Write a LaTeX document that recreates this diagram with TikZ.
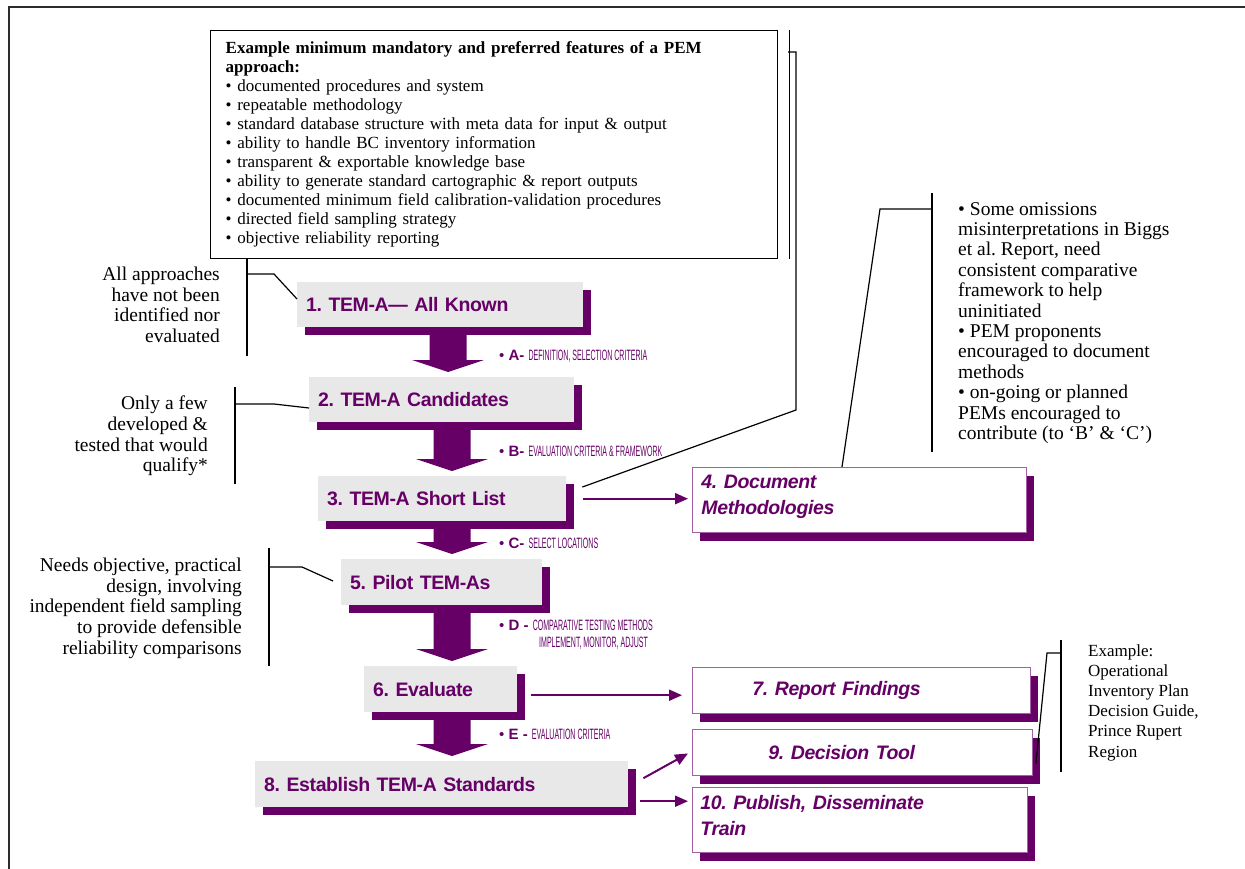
\documentclass[tikz,border=0pt]{standalone}
\usepackage{fontspec}
\usepackage{graphicx}
\setmainfont{Liberation Serif}
\newfontfamily\stepfont[LetterSpace=-2]{Liberation Sans}
\newfontfamily\capsfont{Liberation Sans}
\usetikzlibrary{shadows,arrows.meta,calc}
\definecolor{pemPurple}{RGB}{102,0,102}
\definecolor{pemGray}{RGB}{232,232,232}
\definecolor{pemEdge}{RGB}{165,95,165}
\definecolor{frameGray}{RGB}{45,45,45}
\frenchspacing
% tall, narrow capitals used for the stage criteria
\newcommand{\narrowcaps}[1]{\scalebox{0.47}[1]{#1}}
% purple block arrow between two stacked stages: axis coordinate, from, to
\newcommand{\flowdown}[3]{%
  \fill[pemPurple] ([xshift=-18.5pt]#1 |- #2.south) -- ([xshift=18.5pt]#1 |- #2.south)
    -- ([xshift=18.5pt,yshift=17pt]#1 |- #3.north) -- ([xshift=36pt,yshift=17pt]#1 |- #3.north)
    -- ([yshift=5pt]#1 |- #3.north) -- ([xshift=-36pt,yshift=17pt]#1 |- #3.north)
    -- ([xshift=-18.5pt,yshift=17pt]#1 |- #3.north) -- cycle;}
\begin{document}
\begin{tikzpicture}[x=1pt,y=-1pt,
  stepbox/.style n args={2}{anchor=north west, fill=pemGray, text width=#1,
    minimum height=#2, inner xsep=9pt, inner ysep=0pt, align=left, text=pemPurple,
    font=\stepfont\bfseries\fontsize{19.5}{24}\selectfont,
    drop shadow={shadow xshift=8pt, shadow yshift=-8pt, fill=pemPurple, opacity=1}},
  outbox/.style n args={3}{anchor=north west, fill=white, draw=pemEdge, line width=0.9pt,
    inner xsep=#1, text width=#2, minimum height=#3, inner ysep=0pt, align=left,
    text=pemPurple, font=\stepfont\bfseries\itshape\fontsize{19.5}{26}\selectfont,
    drop shadow={shadow xshift=8pt, shadow yshift=-9pt, fill=pemPurple, opacity=1}},
  notebox/.style={anchor=north west, draw=black, line width=1.4pt, fill=white,
    text width=537pt, inner xsep=15pt, inner ysep=0pt, minimum height=228pt, align=left,
    font=\fontsize{17}{19}\selectfont},
  remark/.style={inner sep=0pt, font=\fontsize{19.5}{20.6}\selectfont},
  criteria/.style={anchor=west, inner sep=0pt, text=pemPurple,
    font=\capsfont\fontsize{15}{17}\selectfont},
  leader/.style={draw=black, line width=1.2pt},
  flowlink/.style={draw=pemPurple, line width=2pt, -{Triangle[length=13pt,width=11pt]}}
]
\useasboundingbox (0,0) rectangle (1245,869);

% page frame
\draw[frameGray, line width=2pt] (9,869) -- (9,7) -- (1245,7);

% list of required features
\node[notebox] (feat) at (210,30) {\textbf{Example minimum mandatory and preferred features of a PEM\\approach:}\\
• documented procedures and system\\
• repeatable methodology\\
• standard database structure with meta data for input \& output\\
• ability to handle BC inventory information\\
• transparent \& exportable knowledge base\\
• ability to generate standard cartographic \& report outputs\\
• documented minimum field calibration-validation procedures\\
• directed field sampling strategy\\
• objective reliability reporting};

% main stages
\node[stepbox={268pt}{45pt}] (b1) at (297,282) {1. TEM-A— All Known};
\node[stepbox={247pt}{45pt}] (b2) at (309,377) {2. TEM-A Candidates};
\node[stepbox={230pt}{45pt}] (b3) at (318,476) {3. TEM-A Short List};
\node[stepbox={183pt}{46pt}] (b5) at (341,559) {5. Pilot TEM-As};
\node[stepbox={135pt}{46pt}] (b6) at (364,666) {6. Evaluate};
\node[stepbox={355pt}{46pt}] (b8) at (255,761) {8. Establish TEM-A Standards};

% outputs (two-line labels sit near the top edge)
\node[outbox={9pt}{316pt}{65pt}] (b4) at (692,467) {4. Document\\Methodologies\\[-16pt]\mbox{}};
\node[outbox={60pt}{218pt}{46pt}] (b7) at (692,667) {7. Report Findings};
\node[outbox={76pt}{188pt}{46pt}] (b9) at (692,729) {9. Decision Tool};
\node[outbox={8pt}{319pt}{65pt}] (b10) at (692,787) {10. Publish, Disseminate\\Train\\[-16pt]\mbox{}};

% block arrows down the main sequence
\coordinate (spineA) at (448,0);
\coordinate (spineB) at (452,0);
\flowdown{spineA}{b1}{b2}
\flowdown{spineB}{b2}{b3}
\flowdown{spineB}{b3}{b5}
\flowdown{spineB}{b5}{b6}
\flowdown{spineB}{b6}{b8}

% criteria beside the block arrows
\node[criteria] (ca) at (499,356) {• \textbf{A-} \narrowcaps{DEFINITION, SELECTION CRITERIA}};
\node[criteria] (cb) at (499,451) {• \textbf{B-} \narrowcaps{EVALUATION CRITERIA \& FRAMEWORK}};
\node[criteria] (cc) at (499,543) {• \textbf{C-} \narrowcaps{SELECT LOCATIONS}};
\node[criteria] (cd) at (499,625) {• \textbf{D -} \narrowcaps{COMPARATIVE TESTING METHODS}};
\node[criteria] (cd2) at (539,643) {\narrowcaps{IMPLEMENT, MONITOR, ADJUST}};
\node[criteria] (ce) at (499,734) {• \textbf{E -} \narrowcaps{EVALUATION CRITERIA}};

% side links to outputs
\draw[flowlink] ([xshift=17pt]b3.east) -- ([xshift=-4pt]b3.east -| b4.west);
\draw[flowlink] ([xshift=14pt,yshift=-6pt]b6.east) -- ([xshift=-10pt,yshift=-6pt]b6.east -| b7.west);
\draw[flowlink] ([xshift=15pt,yshift=6pt]b8.east) -- ([xshift=-4pt,yshift=-1pt]b9.west);
\draw[flowlink] ([xshift=12pt,yshift=-17pt]b8.east) -- ([xshift=-4pt,yshift=-17pt]b8.east -| b10.west);

% remarks
\node[remark, anchor=north east, align=right] (r1) at (220,267) {All approaches\\have not been\\identified nor\\evaluated};
\node[remark, anchor=north east, align=right] (r2) at (208,396) {Only a few\\developed \&\\tested that would\\qualify*};
\node[remark, anchor=north east, align=right] (r3) at (242,558) {Needs objective, practical\\design, involving\\independent field sampling\\to provide defensible\\reliability comparisons};
\node[remark, anchor=north west, align=left, font=\fontsize{19.5}{20.4}\selectfont] (r4) at (958,202) {• Some omissions\\misinterpretations in Biggs\\et al. Report, need\\consistent comparative\\framework to help\\uninitiated\\• PEM proponents\\encouraged to document\\methods\\• on-going or planned\\PEMs encouraged to\\contribute (to ‘B’ \& ‘C’)};
\node[remark, anchor=north west, align=left, font=\fontsize{17}{20.2}\selectfont] (r5) at (1088,644) {Example:\\Operational\\Inventory Plan\\Decision Guide,\\Prince Rupert\\Region};

% brackets tying remarks to stages
\coordinate (k1t) at (247,258); \coordinate (k1b) at (247,356); \coordinate (k1m) at (247,274); \coordinate (k1e) at (274,274);
\draw[leader] (k1t) -- (k1b);
\draw[leader] (k1m) -- (k1e) -- ([yshift=-17pt]b1.north west);

\coordinate (k2t) at (235,387); \coordinate (k2b) at (235,484); \coordinate (k2m) at (235,404); \coordinate (k2e) at (274,404);
\draw[leader] (k2t) -- (k2b);
\draw[leader] (k2m) -- (k2e) -- ([yshift=-31pt]b2.north west);

\coordinate (k3t) at (269,548); \coordinate (k3b) at (269,666); \coordinate (k3m) at (269,567); \coordinate (k3e) at (302,567);
\draw[leader] (k3t) -- (k3b);
\draw[leader] (k3m) -- (k3e) -- ([xshift=-8pt,yshift=-22pt]b5.north west);

\coordinate (k4t) at (932,193); \coordinate (k4b) at (932,452); \coordinate (k4m) at (932,209); \coordinate (k4e) at (880,209);
\draw[leader] (k4t) -- (k4b);
\draw[leader] (k4m) -- (k4e) -- (b4.north -| 842,0);

\coordinate (k5t) at (1061,640); \coordinate (k5b) at (1061,772); \coordinate (k5m) at (1061,653); \coordinate (k5e) at (1047,653);
\draw[leader] (k5t) -- (k5b);
\draw[leader] (k5m) -- (k5e) -- ([xshift=3pt,yshift=-11pt]b9.east);

% bracket round the feature list, led to the short list
\draw[leader] ([xshift=11pt]feat.north east) -- ([xshift=11pt]feat.south east);
\coordinate (k6a) at (788,52); \coordinate (k6b) at (796,52); \coordinate (k6c) at (796,410);
\draw[leader] (k6a) -- (k6b) -- (k6c) -- ([xshift=16pt,yshift=-11pt]b3.north east);
\end{tikzpicture}
\end{document}
